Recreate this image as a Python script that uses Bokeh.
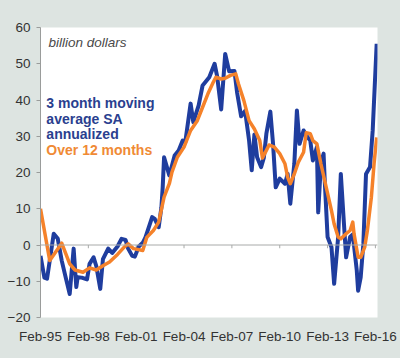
import pandas as pd
from bokeh.plotting import figure
from bokeh.models import Range1d, Span, Label, FixedTicker, DatetimeTickFormatter, ColumnDataSource
from bokeh.embed import file_html
from bokeh.resources import INLINE

# 3 month moving average, SA annualized (billion dollars)
blue_dates = ["1995-02", "1995-05", "1995-07", "1995-12", "1996-03", "1996-06", "1996-09", "1996-12",
              "1997-03", "1997-05", "1997-06", "1997-09", "1998-01", "1998-03", "1998-06", "1998-08",
              "1998-11", "1999-01", "1999-05", "1999-08", "1999-12", "2000-03", "2000-06", "2000-08",
              "2000-11", "2001-01", "2001-04", "2001-07", "2001-09", "2002-02", "2002-04", "2002-07",
              "2002-09", "2002-10", "2002-11", "2003-03", "2003-07", "2003-10", "2004-01", "2004-03",
              "2004-07", "2004-09", "2005-01", "2005-04", "2005-06", "2005-09", "2006-01", "2006-03",
              "2006-06", "2006-09", "2006-12", "2007-04", "2007-06", "2007-09", "2007-12", "2008-03",
              "2008-05", "2008-07", "2008-09", "2008-12", "2009-02", "2009-04", "2009-07", "2009-09",
              "2009-11", "2010-02", "2010-06", "2010-08", "2010-10", "2011-01", "2011-03", "2011-05",
              "2011-08", "2011-10", "2012-01", "2012-03", "2012-06", "2012-07", "2012-09", "2012-11",
              "2012-12", "2013-02", "2013-05", "2013-07", "2013-10", "2013-12", "2014-02", "2014-04",
              "2014-07", "2014-09", "2014-12", "2015-01", "2015-03", "2015-05", "2015-07", "2015-10",
              "2015-12", "2016-03"]
blue_vals = [-3.0, -9.0, -9.3, 3.1, 1.8, -4.3, -9.0, -13.5,
             -1.0, -11.6, -8.9, -9.0, -9.5, -5.2, -3.4, -5.8,
             -12.1, -3.9, -1.0, -2.2, -0.4, 1.7, 1.4, -1.0,
             -3.0, -3.2, -0.4, 0.6, 2.1, 7.7, 7.2, 4.9,
             10.4, 16.0, 24.2, 19.2, 24.7, 26.1, 28.8, 28.4,
             39.0, 33.9, 38.5, 44.0, 44.9, 46.3, 50.0, 46.5,
             37.4, 52.7, 47.9, 48.0, 42.0, 35.5, 37.0, 28.8,
             20.6, 30.5, 24.2, 21.5, 24.0, 30.7, 36.8, 27.9,
             15.9, 18.3, 16.9, 19.6, 11.4, 22.4, 37.1, 27.9,
             31.6, 30.2, 28.8, 23.3, 27.0, 9.0, 22.4, 25.2,
             16.9, 2.2, -0.6, -10.7, 2.2, 19.6, 7.7, -3.4,
             2.2, 2.9, -7.0, -12.6, -8.9, 0.3, 19.6, 21.5,
             31.6, 55.5]

# Over 12 months (billion dollars)
orange_dates = ["1995-02", "1995-09", "1996-06", "1996-12", "1997-04", "1997-10", "1998-03", "1998-08",
                "1999-01", "1999-06", "1999-12", "2000-05", "2000-08", "2000-12", "2001-07", "2001-10",
                "2002-03", "2002-07", "2002-11", "2003-03", "2003-05", "2003-09", "2004-02", "2004-07",
                "2004-12", "2005-04", "2005-08", "2005-12", "2006-02", "2006-06", "2006-09", "2007-01",
                "2007-05", "2007-07", "2007-11", "2008-03", "2008-07", "2008-11", "2009-01", "2009-04",
                "2009-06", "2009-10", "2010-02", "2010-06", "2010-08", "2010-10", "2011-01", "2011-04",
                "2011-08", "2011-10", "2012-01", "2012-03", "2012-06", "2012-09", "2013-01", "2013-05",
                "2013-07", "2013-10", "2013-12", "2014-04", "2014-07", "2014-09", "2014-10", "2015-01",
                "2015-03", "2015-06", "2015-08", "2015-11", "2016-01", "2016-03"]
orange_vals = [10.0, -4.3, 0.5, -5.2, -6.9, -7.5, -6.3, -6.9,
               -5.7, -4.7, -2.6, -0.6, 0.3, -1.0, -1.5, 2.1,
               4.0, 6.3, 13.2, 16.9, 20.1, 24.2, 27.0, 31.6,
               34.3, 38.0, 41.7, 44.9, 46.3, 45.8, 46.0, 46.8,
               47.2, 44.5, 39.9, 34.3, 32.0, 28.8, 24.0, 26.1,
               27.6, 27.0, 25.2, 22.4, 18.7, 16.9, 19.6, 22.8,
               25.6, 31.0, 30.7, 28.8, 27.9, 22.4, 15.9, 9.5,
               5.8, 2.2, 1.7, 3.1, 4.0, 6.3, 3.0, -3.4,
               -3.4, -0.6, 4.0, 13.2, 22.4, 29.7]

tick_dates = ["1995-02", "1998-02", "2001-02", "2004-02", "2007-02", "2010-02", "2013-02", "2016-02"]
y_ticks = [-20, -10, 0, 10, 20, 30, 40, 50, 60]

unit_label = "billion dollars"
legend_blue = ["3 month moving", "average SA", "annualized"]
legend_orange = "Over 12 months"

BLUE = "#1f3d9e"
ORANGE = "#f5822a"
BG = "#dde4e1"

blue_src = ColumnDataSource(dict(x=pd.to_datetime(blue_dates), y=blue_vals))
orange_src = ColumnDataSource(dict(x=pd.to_datetime(orange_dates), y=orange_vals))
ticks_dt = pd.to_datetime(tick_dates)
tick_ms = [t.value / 1e6 for t in ticks_dt]

p = figure(width=400, height=358, x_axis_type="datetime", output_backend="svg",
           toolbar_location=None,
           x_range=Range1d(pd.Timestamp("1995-02-01"), pd.Timestamp("2016-03-20")),
           y_range=Range1d(-20, 60),
           min_border_left=40, min_border_right=23, min_border_top=27, min_border_bottom=41)
p.background_fill_color = "white"
p.border_fill_color = BG
p.outline_line_color = None
p.grid.grid_line_color = None

# zero line with small ticks
p.add_layout(Span(location=0, dimension="width", line_color="#a8aaa9", line_width=1))
p.segment(x0=ticks_dt, y0=[0] * len(ticks_dt), x1=ticks_dt, y1=[-0.9] * len(ticks_dt),
          line_color="#a8aaa9", line_width=1)

p.line("x", "y", source=blue_src, line_color=BLUE, line_width=4, line_join="round")
p.line("x", "y", source=orange_src, line_color=ORANGE, line_width=3.5, line_join="round")

# x axis: labels only
xa = p.xaxis[0]
xa.ticker = FixedTicker(ticks=tick_ms)
xa.formatter = DatetimeTickFormatter(months="%b-%y", years="%b-%y", days="%b-%y")
xa.axis_line_color = None
xa.major_tick_line_color = None
xa.minor_tick_line_color = None
xa.major_label_standoff = 5
xa.major_label_text_font = "Liberation Sans"
xa.major_label_text_font_size = "13.5px"
xa.major_label_text_color = "#333333"

ya = p.yaxis[0]
ya.ticker = FixedTicker(ticks=y_ticks)
ya.axis_line_color = "#9a9c9b"
ya.major_tick_line_color = "#9a9c9b"
ya.major_tick_out = 4
ya.major_tick_in = 0
ya.minor_tick_line_color = None
ya.major_label_standoff = 6
ya.major_label_text_font = "Liberation Sans"
ya.major_label_text_font_size = "13.5px"
ya.major_label_text_color = "#333333"

p.add_layout(Label(x=pd.Timestamp("1995-08-01"), y=55.9, text=unit_label,
                   text_font="Liberation Sans", text_font_style="italic", text_font_size="13.5px",
                   text_color="#4a4a4a", text_baseline="middle"))
for txt, yv in zip(legend_blue, [39.3, 34.8, 30.6]):
    p.add_layout(Label(x=pd.Timestamp("1995-06-15"), y=yv, text=txt,
                       text_font="Liberation Sans", text_font_style="bold", text_font_size="14px",
                       text_color="#2a3f8f", text_baseline="middle"))
p.add_layout(Label(x=pd.Timestamp("1995-06-15"), y=26.3, text=legend_orange,
                   text_font="Liberation Sans", text_font_style="bold", text_font_size="14px",
                   text_color="#f08a35", text_baseline="middle"))

html = file_html(p, INLINE)
html = html.replace("<head>", "<head><style>body{background:%s;}</style>" % BG, 1)
open("out.html", "w").write(html)
